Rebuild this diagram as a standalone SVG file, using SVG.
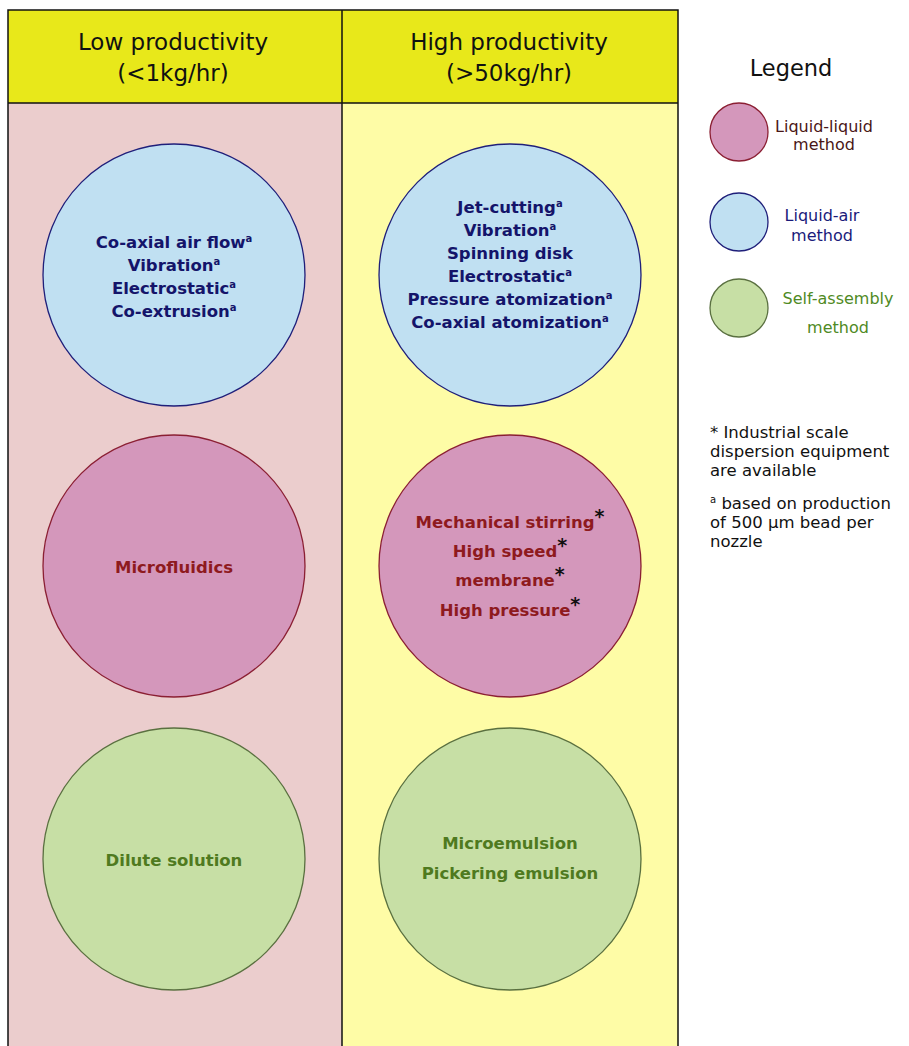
<svg xmlns="http://www.w3.org/2000/svg" width="909" height="1046" viewBox="0 0 909 1046">
<style>
.hdr{font-family:"DejaVu Sans","Verdana",sans-serif;font-size:23px;fill:#111;text-anchor:middle}
.ct{font-family:"DejaVu Sans","Verdana",sans-serif;font-size:16.5px;font-weight:bold;text-anchor:middle}
.blue{fill:#c0e0f2;stroke:#1f1f7a;stroke-width:1.3}
.pink{fill:#d497bb;stroke:#8b1f33;stroke-width:1.3}
.green{fill:#c7dfa5;stroke:#5a7040;stroke-width:1.3}
.tb{fill:#14146a}
.tp{fill:#8e1a1e}
.tg{fill:#4f7a1f}
.sup{font-size:10px}
.ast{fill:#111;font-size:19px}
.lg{font-family:"DejaVu Sans","Verdana",sans-serif;font-size:16px;text-anchor:middle}
.note{font-family:"DejaVu Sans","Verdana",sans-serif;font-size:16.5px;fill:#111}
</style>
<rect width="909" height="1046" fill="#ffffff"/>
<g id="table">
<rect x="8" y="103" width="334" height="950" fill="#ebcdcd"/>
<rect x="342" y="103" width="336" height="950" fill="#fefca6"/>
<rect x="8" y="10" width="670" height="93" fill="#e8e81a"/>
<path d="M8 1050 V10 H678 V1050 M342 10 V1050 M8 103 H678" fill="none" stroke="#111" stroke-width="1.5"/>
<text class="hdr" x="173" y="50">Low productivity</text>
<text class="hdr" x="173" y="81">(&lt;1kg/hr)</text>
<text class="hdr" x="509" y="50">High productivity</text>
<text class="hdr" x="509" y="81">(&gt;50kg/hr)</text>
</g>
<g id="low-liquid-air">
<circle class="blue" cx="174" cy="275" r="131"/>
<text class="ct tb" x="174" y="248">Co-axial air flow<tspan class="sup" dy="-6">a</tspan></text>
<text class="ct tb" x="174" y="271">Vibration<tspan class="sup" dy="-6">a</tspan></text>
<text class="ct tb" x="174" y="294">Electrostatic<tspan class="sup" dy="-6">a</tspan></text>
<text class="ct tb" x="174" y="317">Co-extrusion<tspan class="sup" dy="-6">a</tspan></text>
</g>
<g id="high-liquid-air">
<circle class="blue" cx="510" cy="275" r="131"/>
<text class="ct tb" x="510" y="213">Jet-cutting<tspan class="sup" dy="-6">a</tspan></text>
<text class="ct tb" x="510" y="236">Vibration<tspan class="sup" dy="-6">a</tspan></text>
<text class="ct tb" x="510" y="259">Spinning disk</text>
<text class="ct tb" x="510" y="282">Electrostatic<tspan class="sup" dy="-6">a</tspan></text>
<text class="ct tb" x="510" y="305">Pressure atomization<tspan class="sup" dy="-6">a</tspan></text>
<text class="ct tb" x="510" y="328">Co-axial atomization<tspan class="sup" dy="-6">a</tspan></text>
</g>
<g id="low-liquid-liquid">
<circle class="pink" cx="174" cy="566" r="131"/>
<text class="ct tp" x="174" y="573">Microfluidics</text>
</g>
<g id="high-liquid-liquid">
<circle class="pink" cx="510" cy="566" r="131"/>
<text class="ct tp" x="510" y="528">Mechanical stirring<tspan class="ast" dy="-5">*</tspan></text>
<text class="ct tp" x="510" y="557">High speed<tspan class="ast" dy="-5">*</tspan></text>
<text class="ct tp" x="510" y="586">membrane<tspan class="ast" dy="-5">*</tspan></text>
<text class="ct tp" x="510" y="616">High pressure<tspan class="ast" dy="-5">*</tspan></text>
</g>
<g id="low-self-assembly">
<circle class="green" cx="174" cy="859" r="131"/>
<text class="ct tg" x="174" y="866">Dilute solution</text>
</g>
<g id="high-self-assembly">
<circle class="green" cx="510" cy="859" r="131"/>
<text class="ct tg" x="510" y="849">Microemulsion</text>
<text class="ct tg" x="510" y="879">Pickering emulsion</text>
</g>
<g id="legend">
<text x="791" y="76" font-family="DejaVu Sans, Verdana, sans-serif" font-size="22.5" fill="#111" text-anchor="middle">Legend</text>
<circle class="pink" cx="739" cy="132" r="29"/>
<text class="lg" x="824" y="132" fill="#4a1616">Liquid-liquid</text>
<text class="lg" x="824" y="150" fill="#4a1616">method</text>
<circle class="blue" cx="739" cy="222" r="29"/>
<text class="lg" x="822" y="221" fill="#1a1a7a">Liquid-air</text>
<text class="lg" x="822" y="241" fill="#1a1a7a">method</text>
<circle class="green" cx="739" cy="308" r="29"/>
<text class="lg" x="838" y="304" fill="#4f8a24">Self-assembly</text>
<text class="lg" x="838" y="333" fill="#4f8a24">method</text>
</g>
<g id="notes">
<text class="note" x="710" y="438">* Industrial scale</text>
<text class="note" x="710" y="457">dispersion equipment</text>
<text class="note" x="710" y="476">are available</text>
<text class="note" x="710" y="509"><tspan font-size="10" dy="-6">a</tspan><tspan dy="6"> based on production</tspan></text>
<text class="note" x="710" y="528">of 500 μm bead per</text>
<text class="note" x="710" y="547">nozzle</text>
</g>
</svg>
